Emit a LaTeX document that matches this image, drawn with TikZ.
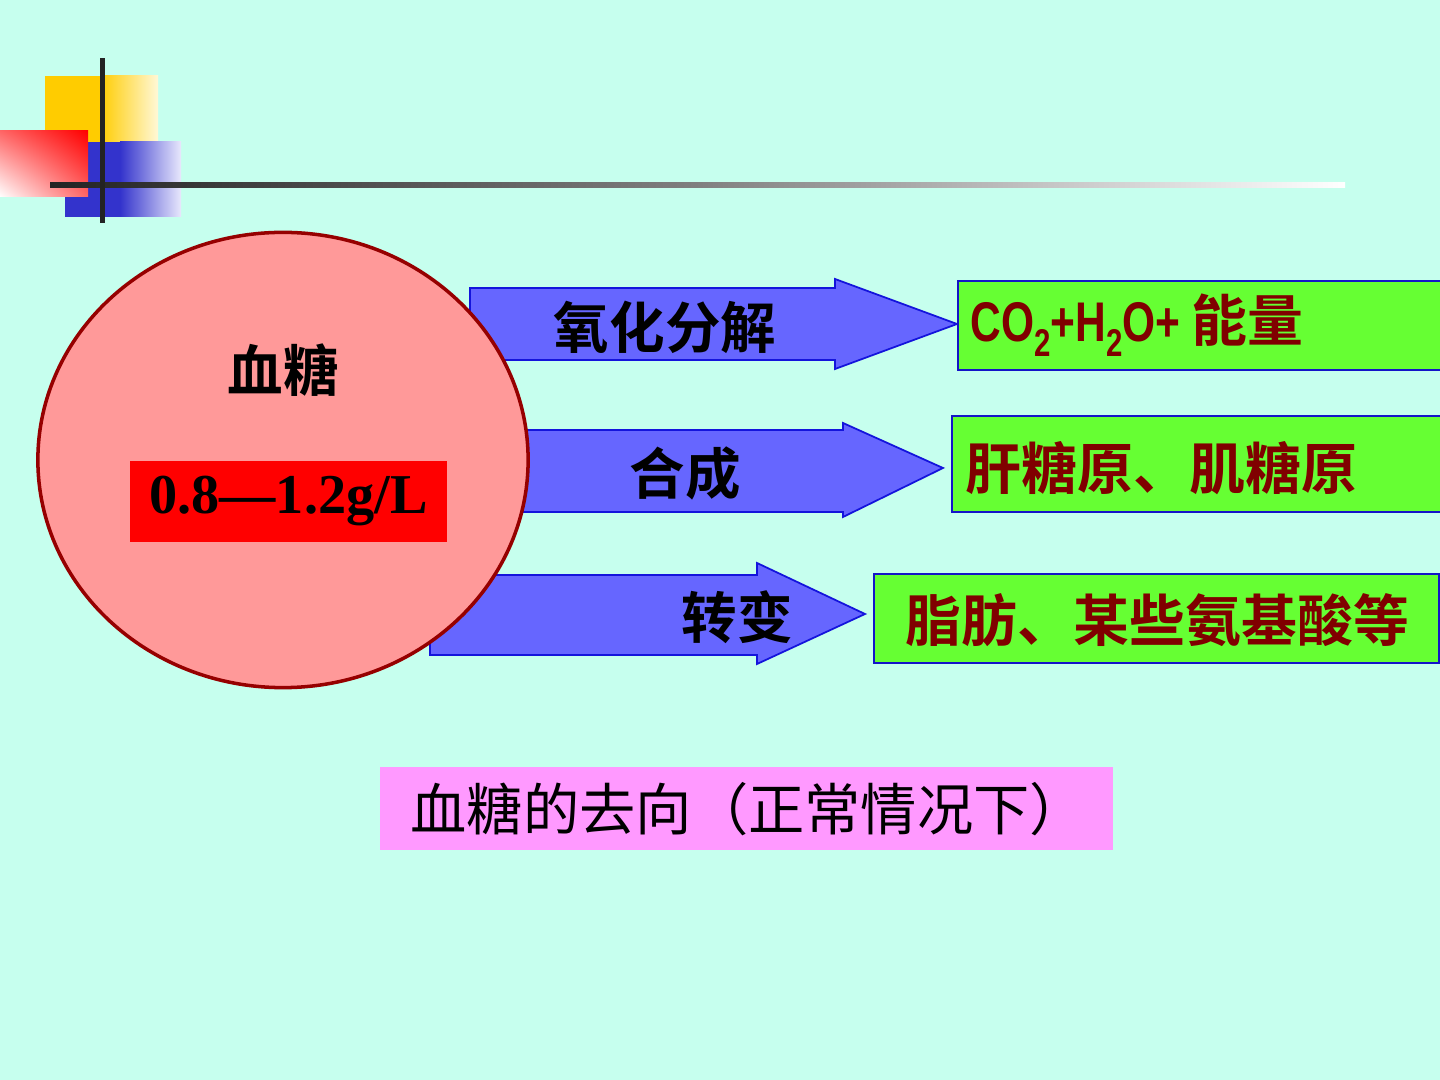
\documentclass[tikz,border=0pt]{standalone}
\usepackage{fontspec}
\usetikzlibrary{shapes.geometric,shadings}
\setmainfont{Liberation Serif}
\newfontfamily\cjk{Noto Sans CJK SC}[BoldFont={Noto Sans CJK SC Bold}]
\newfontfamily\latinsans{Liberation Sans}
\definecolor{bgc}{RGB}{198,255,238}
\definecolor{goldc}{RGB}{255,204,0}
\definecolor{goldpale}{RGB}{255,248,215}
\definecolor{dblue}{RGB}{51,51,204}
\definecolor{bluepale}{RGB}{232,232,252}
\definecolor{linedark}{RGB}{35,35,35}
\definecolor{arrowfill}{RGB}{102,102,255}
\definecolor{arrowedge}{RGB}{20,20,220}
\definecolor{greenc}{RGB}{102,255,51}
\definecolor{greenedge}{RGB}{20,20,200}
\definecolor{darkred}{RGB}{128,0,0}
\definecolor{circfill}{RGB}{255,153,153}
\definecolor{circedge}{RGB}{150,0,0}
\definecolor{pinkc}{RGB}{255,153,255}
\begin{document}
\begin{tikzpicture}[x=0.01cm,y=-0.01cm,
  bigarrow/.style={fill=arrowfill,draw=arrowedge,line width=0.5pt,line join=miter},
  greenbox/.style={fill=greenc,draw=greenedge,line width=0.6pt},
  armlabel/.style={font=\cjk\bfseries\fontsize{15.8}{18}\selectfont,text=black,inner sep=0pt},
  resultlabel/.style={font=\cjk\bfseries\fontsize{15.9}{18}\selectfont,text=darkred,inner sep=0pt,anchor=west}]
\useasboundingbox (0,0) rectangle (1440,1080);
\fill[bgc] (0,0) rectangle (1440,1080);
% corner decoration
\fill[goldc] (45,76) rectangle (101,142);
\shade[left color=goldc,right color=goldpale] (100,76) rectangle (158,142);
\fill[dblue] (65,142) rectangle (121,217);
\shade[left color=dblue,right color=bluepale] (120,142) rectangle (181,217);
\shade[upper right=red,lower left=white,upper left=red!60!white,lower right=red!60!white] (0,131) rectangle (88,197);
\shade[left color=linedark,right color=white,middle color=black!50] (50,182.5) rectangle (1345,187.5);
\fill[linedark] (100,58) rectangle (105,223);
% arrows
\draw[bigarrow] (470,288) -- (835,288) -- (835,279) -- (957,324) -- (835,369) -- (835,360) -- (470,360) -- cycle;
\draw[bigarrow] (480,430) -- (843,430) -- (843,423) -- (943,468) -- (843,517) -- (843,512) -- (480,512) -- cycle;
\draw[bigarrow] (430,575) -- (757,575) -- (757,563) -- (865,614) -- (757,664) -- (757,655) -- (430,655) -- cycle;
\node[armlabel] (a1) at (665,327) {氧化分解};
\node[armlabel] (a2) at (685,473) {合成};
\node[armlabel] (a3) at (737,617) {转变};
% blood sugar circle
\node[ellipse,minimum width=4.9cm,minimum height=4.55cm,inner sep=0pt,fill=circfill,draw=circedge,line width=1pt] (blood) at (283,460) {};
\node[armlabel] (bname) at (283,370) {血糖};
\node[fill=red,minimum width=3.17cm,minimum height=0.81cm,inner sep=0pt,font=\bfseries\fontsize{16}{18}\selectfont] (range) at (288.5,501.5) {0.8—1.2g/L};
% result boxes
\node[greenbox,anchor=north west,minimum width=4.9cm,minimum height=0.89cm,inner sep=0pt] (g1) at (957,280) {};
\node[greenbox,anchor=north west,minimum width=4.95cm,minimum height=0.96cm,inner sep=0pt] (g2) at (951,415) {};
\node[greenbox,anchor=north west,minimum width=5.65cm,minimum height=0.89cm,inner sep=0pt] (g3) at (873,573) {};
\node[resultlabel] (r1) at (970,325) {\scalebox{0.76}[1]{\latinsans\bfseries CO\raisebox{-0.5ex}{\fontsize{11}{12}\selectfont 2}+H\raisebox{-0.5ex}{\fontsize{11}{12}\selectfont 2}O+}\hspace{0.2em}能量};
\node[resultlabel] (r2) at (965,468) {肝糖原、肌糖原};
\node[resultlabel] (r3) at (905,620) {脂肪、某些氨基酸等};
% caption
\node[fill=pinkc,anchor=north west,minimum width=7.33cm,minimum height=0.83cm,inner sep=0pt] (capbox) at (379,766) {};
\node[anchor=west,inner sep=0pt,font=\cjk\fontsize{16}{18}\selectfont] (cap) at (410,809) {血糖的去向（正常情况下）};
\end{tikzpicture}
\end{document}
